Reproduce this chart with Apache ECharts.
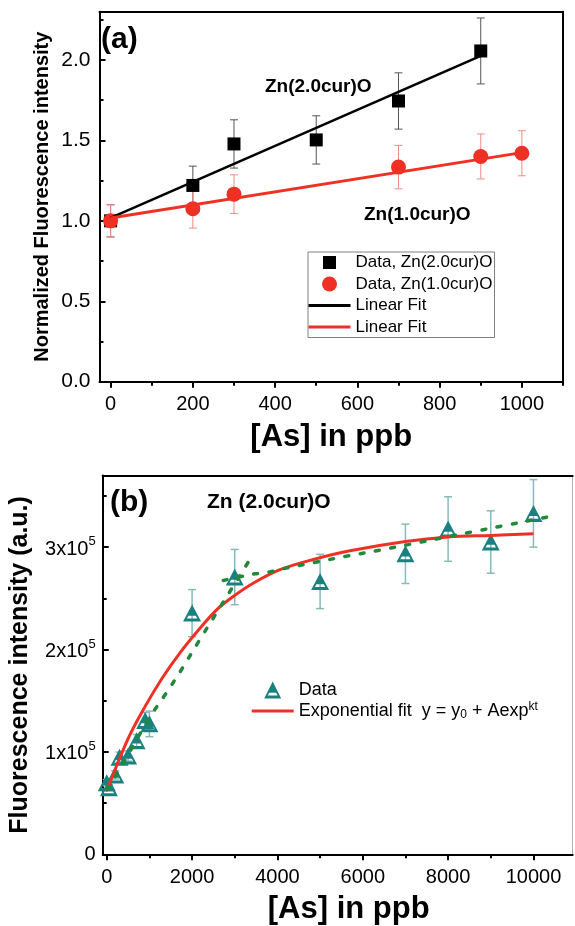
<!DOCTYPE html>
<html><head><meta charset="utf-8">
<script src="https://cdn.jsdelivr.net/npm/echarts@6/dist/echarts.min.js"></script>
<style>html,body{margin:0;padding:0;background:#fff}#c{width:575px;height:926px}</style>
</head><body><div id="c"></div>
<script>
// ---------- Panel (a) data ----------
const concA2 = [0, 200, 300, 500, 700, 900];
const intA2  = [1.0, 1.22, 1.478, 1.503, 1.745, 2.056];
const errA2  = [0.1, 0.12, 0.15, 0.15, 0.175, 0.205];
const concA1 = [0, 200, 300, 700, 900, 1000];
const intA1  = [1.0, 1.075, 1.166, 1.334, 1.40, 1.42];
const errA1  = [0.1, 0.12, 0.12, 0.135, 0.14, 0.14];
const fitA2X = [0, 900];
const fitA2Y = [1.018, 2.025];
const fitA1X = [0, 1000];
const fitA1Y = [1.017, 1.424];
const xTicksA = [0, 200, 400, 600, 800, 1000];
const xMinorA = [100, 300, 500, 700, 900, 1100];
const yTicksA = [0, 0.5, 1.0, 1.5, 2.0];
const yMinorA = [0.25, 0.75, 1.25, 1.75, 2.25];

// ---------- Panel (b) data ----------
const concB = [0, 50, 200, 300, 500, 700, 900, 1000, 2000, 3000, 5000, 7000, 8000, 9000, 10000];
const intB  = [70000, 65000, 77500, 94800, 96000, 111000, 130600, 127400, 235600, 270800, 266500, 293500, 317700, 305000, 333000];
const errB  = [3000, 3000, 4000, 5000, 5000, 6000, 8000, 12500, 23000, 27000, 26500, 29000, 31500, 30500, 33000];
const fitBX = [0, 500, 900, 1290, 1720, 2190, 2580, 2970, 3440, 4060, 4840, 5700, 7000, 8000, 9000, 10000];
const fitBY = [62000, 113000, 144500, 171500, 197000, 221000, 239000, 252000, 265000, 278000, 288000, 296500, 305600, 310000, 311500, 313000];
const dotB1X = [0, 200, 590, 1010, 1370, 1760, 2170, 2560, 2950, 3340];
const dotB1Y = [63000, 76000, 104000, 134000, 156000, 181000, 209000, 235000, 261000, 287000];
const dotB2X = [2730, 3110, 3480, 3830, 4200, 4920, 5660, 6390, 7130, 7850, 8570, 9300, 10040, 10450];
const dotB2Y = [267500, 271000, 274000, 276000, 279500, 285500, 291500, 297000, 303000, 309000, 315000, 321000, 327000, 330500];
const xTicksB = [0, 2000, 4000, 6000, 8000, 10000];
const xMinorB = [1000, 3000, 5000, 7000, 9000];
const yTicksB = [0, 100000, 200000, 300000];
const yMinorB = [50000, 150000, 250000, 350000];

const FONT = '"Liberation Sans", Arial, Helvetica, sans-serif';
const zip2 = (xs, ys) => xs.map((x, i) => [x, ys[i]]);
const zip3 = (xs, ys, es) => xs.map((x, i) => [x, ys[i], es[i]]);

const SQ = 'path://M0,0M15,15M1,1L14,1L14,14L1,14Z';
const LN = 'path://M0,0L42,0L42,3L0,3Z';
const TRI = 'path://M50,0L100,100L0,100ZM50,24.6L21.3,82L78.7,82ZM50,5L83,66L17,66Z';

const TEAL = '#1a8080';
const RED = '#ee3124';

function errRender(color, cap, width) {
  return function (params, api) {
    const x = api.value(0), y = api.value(1), e = api.value(2);
    const p1 = api.coord([x, y + e]), p2 = api.coord([x, y - e]);
    const h = cap / 2;
    const st = { stroke: color, lineWidth: width };
    return { type: 'group', children: [
      { type: 'line', shape: { x1: p1[0], y1: p1[1], x2: p2[0], y2: p2[1] }, style: st },
      { type: 'line', shape: { x1: p1[0] - h, y1: p1[1], x2: p1[0] + h, y2: p1[1] }, style: st },
      { type: 'line', shape: { x1: p2[0] - h, y1: p2[1], x2: p2[0] + h, y2: p2[1] }, style: st }
    ]};
  };
}

const black2 = { color: '#000', width: 2 };
function lineOnlyAxis(grid, pos, min, max, color, width) {
  return { type: 'value', gridIndex: grid, position: pos, min, max,
    axisLine: { show: true, onZero: false, lineStyle: { color, width } },
    axisTick: { show: false }, axisLabel: { show: false }, splitLine: { show: false } };
}
function minorAxis(grid, pos, min, max, vals, inside) {
  return { type: 'value', gridIndex: grid, position: pos, min, max,
    axisLine: { show: false, onZero: false },
    axisTick: { show: true, inside, length: 4, customValues: vals, lineStyle: black2 },
    axisLabel: { show: false }, splitLine: { show: false } };
}

const option = {
  animation: false,
  backgroundColor: '#fff',
  grid: [
    { left: 99.5, top: 11.7, width: 463.5, height: 370, containLabel: false, outerBoundsMode: 'none' },
    { left: 102.7, top: 475.5, width: 470, height: 378.8, containLabel: false, outerBoundsMode: 'none' }
  ],
  xAxis: [
    { type: 'value', gridIndex: 0, position: 'bottom', min: -27, max: 1100,
      axisLine: { show: true, onZero: false, lineStyle: black2 },
      axisTick: { show: true, inside: false, length: 6, customValues: xTicksA, lineStyle: black2 },
      axisLabel: { show: true, customValues: xTicksA, margin: 13, color: '#000', fontSize: 20, fontFamily: FONT, formatter: v => String(v) },
      splitLine: { show: false },
      name: '[As] in ppb', nameLocation: 'middle', nameGap: 40, nameMoveOverlap: false,
      nameTextStyle: { fontSize: 31, fontWeight: 'bold', color: '#000', fontFamily: FONT } },
    minorAxis(0, 'bottom', -27, 1100, xMinorA, false),
    lineOnlyAxis(0, 'top', -27, 1100, '#000', 2),
    { type: 'value', gridIndex: 1, position: 'bottom', min: -95, max: 10920,
      axisLine: { show: true, onZero: false, lineStyle: black2 },
      axisTick: { show: true, inside: false, length: 6, customValues: xTicksB, lineStyle: black2 },
      axisLabel: { show: true, customValues: xTicksB, margin: 13, color: '#000', fontSize: 20, fontFamily: FONT, formatter: v => String(v) },
      splitLine: { show: false },
      name: '[As] in ppb', nameLocation: 'middle', nameGap: 40, nameMoveOverlap: false,
      nameTextStyle: { fontSize: 31, fontWeight: 'bold', color: '#000', fontFamily: FONT, padding: [0, 0, 0, 22] } },
    minorAxis(1, 'bottom', -95, 10920, xMinorB, false),
    lineOnlyAxis(1, 'top', -95, 10920, '#000', 2)
  ],
  yAxis: [
    { type: 'value', gridIndex: 0, position: 'left', min: 0, max: 2.3,
      axisLine: { show: true, onZero: false, lineStyle: black2 },
      axisTick: { show: true, inside: true, length: 6, customValues: yTicksA, lineStyle: black2 },
      axisLabel: { show: true, customValues: yTicksA, margin: 9, color: '#000', fontSize: 21, fontFamily: FONT, formatter: v => v.toFixed(1) },
      splitLine: { show: false },
      name: 'Normalized Fluorescence intensity', nameLocation: 'middle', nameGap: 47, nameMoveOverlap: false,
      nameTextStyle: { fontSize: 20, fontWeight: 'bold', color: '#000', fontFamily: FONT } },
    minorAxis(0, 'left', 0, 2.3, yMinorA, true),
    lineOnlyAxis(0, 'right', 0, 2.3, '#000', 2),
    { type: 'value', gridIndex: 1, position: 'left', min: 0, max: 370000,
      axisLine: { show: true, onZero: false, lineStyle: black2 },
      axisTick: { show: true, inside: true, length: 6, customValues: yTicksB, lineStyle: black2 },
      axisLabel: { show: true, customValues: yTicksB, margin: 7, color: '#000', fontSize: 20, fontFamily: FONT,
        formatter: v => v === 0 ? '0' : '{n|' + (v / 100000) + 'x10}{s|5}',
        rich: { n: { fontSize: 20, lineHeight: 24, verticalAlign: 'bottom', fontFamily: FONT, color: '#000' },
                s: { fontSize: 13, lineHeight: 13, verticalAlign: 'top', fontFamily: FONT, color: '#000' } } },
      splitLine: { show: false },
      name: 'Fluorescence intensity (a.u.)', nameLocation: 'middle', nameGap: 70, nameMoveOverlap: false,
      nameTextStyle: { fontSize: 25, fontWeight: 'bold', color: '#000', fontFamily: FONT } },
    minorAxis(1, 'left', 0, 370000, yMinorB, true),
    lineOnlyAxis(1, 'right', 0, 370000, '#b0b0b0', 1)
  ],
  legend: [
    { orient: 'vertical', left: 308, top: 252, itemWidth: 42, itemHeight: 15, itemGap: 4.5,
      padding: [2, 2, 2, 0.5], borderColor: '#808080', borderWidth: 1, selectedMode: false,
      textStyle: { fontSize: 17, lineHeight: 17, fontFamily: FONT, color: '#000' },
      data: [
        { name: 'Data, Zn(2.0cur)O', icon: SQ, itemStyle: { color: '#000', opacity: 1 } },
        { name: 'Data, Zn(1.0cur)O', icon: 'circle', itemStyle: { color: RED, opacity: 1 } },
        { name: 'Linear Fit (2.0)', icon: LN, itemStyle: { color: '#000', opacity: 1 } },
        { name: 'Linear Fit (1.0)', icon: LN, itemStyle: { color: RED, opacity: 1 } }
      ],
      formatter: n => n.indexOf('Linear') === 0 ? 'Linear Fit' : n },
    { orient: 'vertical', left: 251.7, top: 680, itemWidth: 42, itemHeight: 17, itemGap: 1,
      padding: 0, selectedMode: false,
      textStyle: { fontSize: 18, lineHeight: 20, fontFamily: FONT, color: '#000',
        rich: { sub: { fontSize: 12, lineHeight: 11, verticalAlign: 'bottom', fontFamily: FONT, color: '#000' },
                sup: { fontSize: 12, lineHeight: 11, verticalAlign: 'top', fontFamily: FONT, color: '#000' } } },
      data: [
        { name: 'Data', itemStyle: { color: TEAL, opacity: 1 } },
        { name: 'Exponential fit', icon: LN, itemStyle: { color: RED, opacity: 1 } }
      ],
      formatter: n => n === 'Data' ? 'Data' : 'Exponential fit  y = y{sub|0} + Aexp{sup|kt}' }
  ],
  graphic: [
    { type: 'text', x: 101, y: 40, style: { text: '(a)', fontSize: 30, fontWeight: 'bold', fontFamily: FONT, fill: '#000', align: 'left', verticalAlign: 'middle' } },
    { type: 'text', x: 265, y: 87, style: { text: 'Zn(2.0cur)O', fontSize: 19, fontWeight: 'bold', fontFamily: FONT, fill: '#000', align: 'left', verticalAlign: 'middle' } },
    { type: 'text', x: 364, y: 215, style: { text: 'Zn(1.0cur)O', fontSize: 19, fontWeight: 'bold', fontFamily: FONT, fill: '#000', align: 'left', verticalAlign: 'middle' } },
    { type: 'text', x: 110, y: 503, style: { text: '(b)', fontSize: 30, fontWeight: 'bold', fontFamily: FONT, fill: '#000', align: 'left', verticalAlign: 'middle' } },
    { type: 'text', x: 207, y: 502, style: { text: 'Zn (2.0cur)O', fontSize: 21, fontWeight: 'bold', fontFamily: FONT, fill: '#000', align: 'left', verticalAlign: 'middle' } }
  ],
  series: [
    { type: 'custom', name: 'errA2', xAxisIndex: 0, yAxisIndex: 0, z: 1, renderItem: errRender('#555', 8, 1),
      encode: { x: 0, y: 1 }, data: zip3(concA2, intA2, errA2) },
    { type: 'custom', name: 'errA1', xAxisIndex: 0, yAxisIndex: 0, z: 1, renderItem: errRender('#f08c86', 8, 1),
      encode: { x: 0, y: 1 }, data: zip3(concA1, intA1, errA1) },
    { type: 'scatter', name: 'Data, Zn(2.0cur)O', xAxisIndex: 0, yAxisIndex: 0, z: 2, symbol: 'rect', symbolSize: 13,
      itemStyle: { color: '#000', opacity: 1 }, data: zip2(concA2, intA2) },
    { type: 'scatter', name: 'Data, Zn(1.0cur)O', xAxisIndex: 0, yAxisIndex: 0, z: 2, symbol: 'circle', symbolSize: 15,
      itemStyle: { color: RED, opacity: 1 }, data: zip2(concA1, intA1) },
    { type: 'line', name: 'Linear Fit (2.0)', xAxisIndex: 0, yAxisIndex: 0, z: 3, symbol: 'none', showSymbol: false,
      itemStyle: { color: '#000' }, lineStyle: { color: '#000', width: 2.5 }, data: zip2(fitA2X, fitA2Y) },
    { type: 'line', name: 'Linear Fit (1.0)', xAxisIndex: 0, yAxisIndex: 0, z: 3, symbol: 'none', showSymbol: false,
      itemStyle: { color: RED }, lineStyle: { color: RED, width: 3 }, data: zip2(fitA1X, fitA1Y) },

    { type: 'custom', name: 'errB', xAxisIndex: 3, yAxisIndex: 3, z: 1, renderItem: errRender('#88b9bb', 8, 1.5),
      encode: { x: 0, y: 1 }, data: zip3(concB, intB, errB) },
    { type: 'scatter', name: 'Data', xAxisIndex: 3, yAxisIndex: 3, z: 2, symbol: TRI, symbolSize: [18, 17], symbolKeepAspect: false,
      itemStyle: { color: TEAL, opacity: 1 }, data: zip2(concB, intB) },
    { type: 'line', name: 'Exponential fit', xAxisIndex: 3, yAxisIndex: 3, z: 3, symbol: 'none', showSymbol: false,
      smooth: 0.35,
      itemStyle: { color: RED }, lineStyle: { color: RED, width: 3 }, data: zip2(fitBX, fitBY) },
    { type: 'line', name: 'dotted1', xAxisIndex: 3, yAxisIndex: 3, z: 4, symbol: 'none', showSymbol: false,
      smooth: 0.35,
      lineStyle: { color: '#23893a', width: 3.5, type: [4, 11.5], cap: 'round' }, data: zip2(dotB1X, dotB1Y) },
    { type: 'line', name: 'dotted2', xAxisIndex: 3, yAxisIndex: 3, z: 4, symbol: 'none', showSymbol: false,
      smooth: 0.35,
      lineStyle: { color: '#23893a', width: 3.5, type: [4, 11.5], cap: 'round' }, data: zip2(dotB2X, dotB2Y) }
  ]
};
const chart = echarts.init(document.getElementById('c'), null, { renderer: 'canvas' });
chart.setOption(option);
</script></body></html>
